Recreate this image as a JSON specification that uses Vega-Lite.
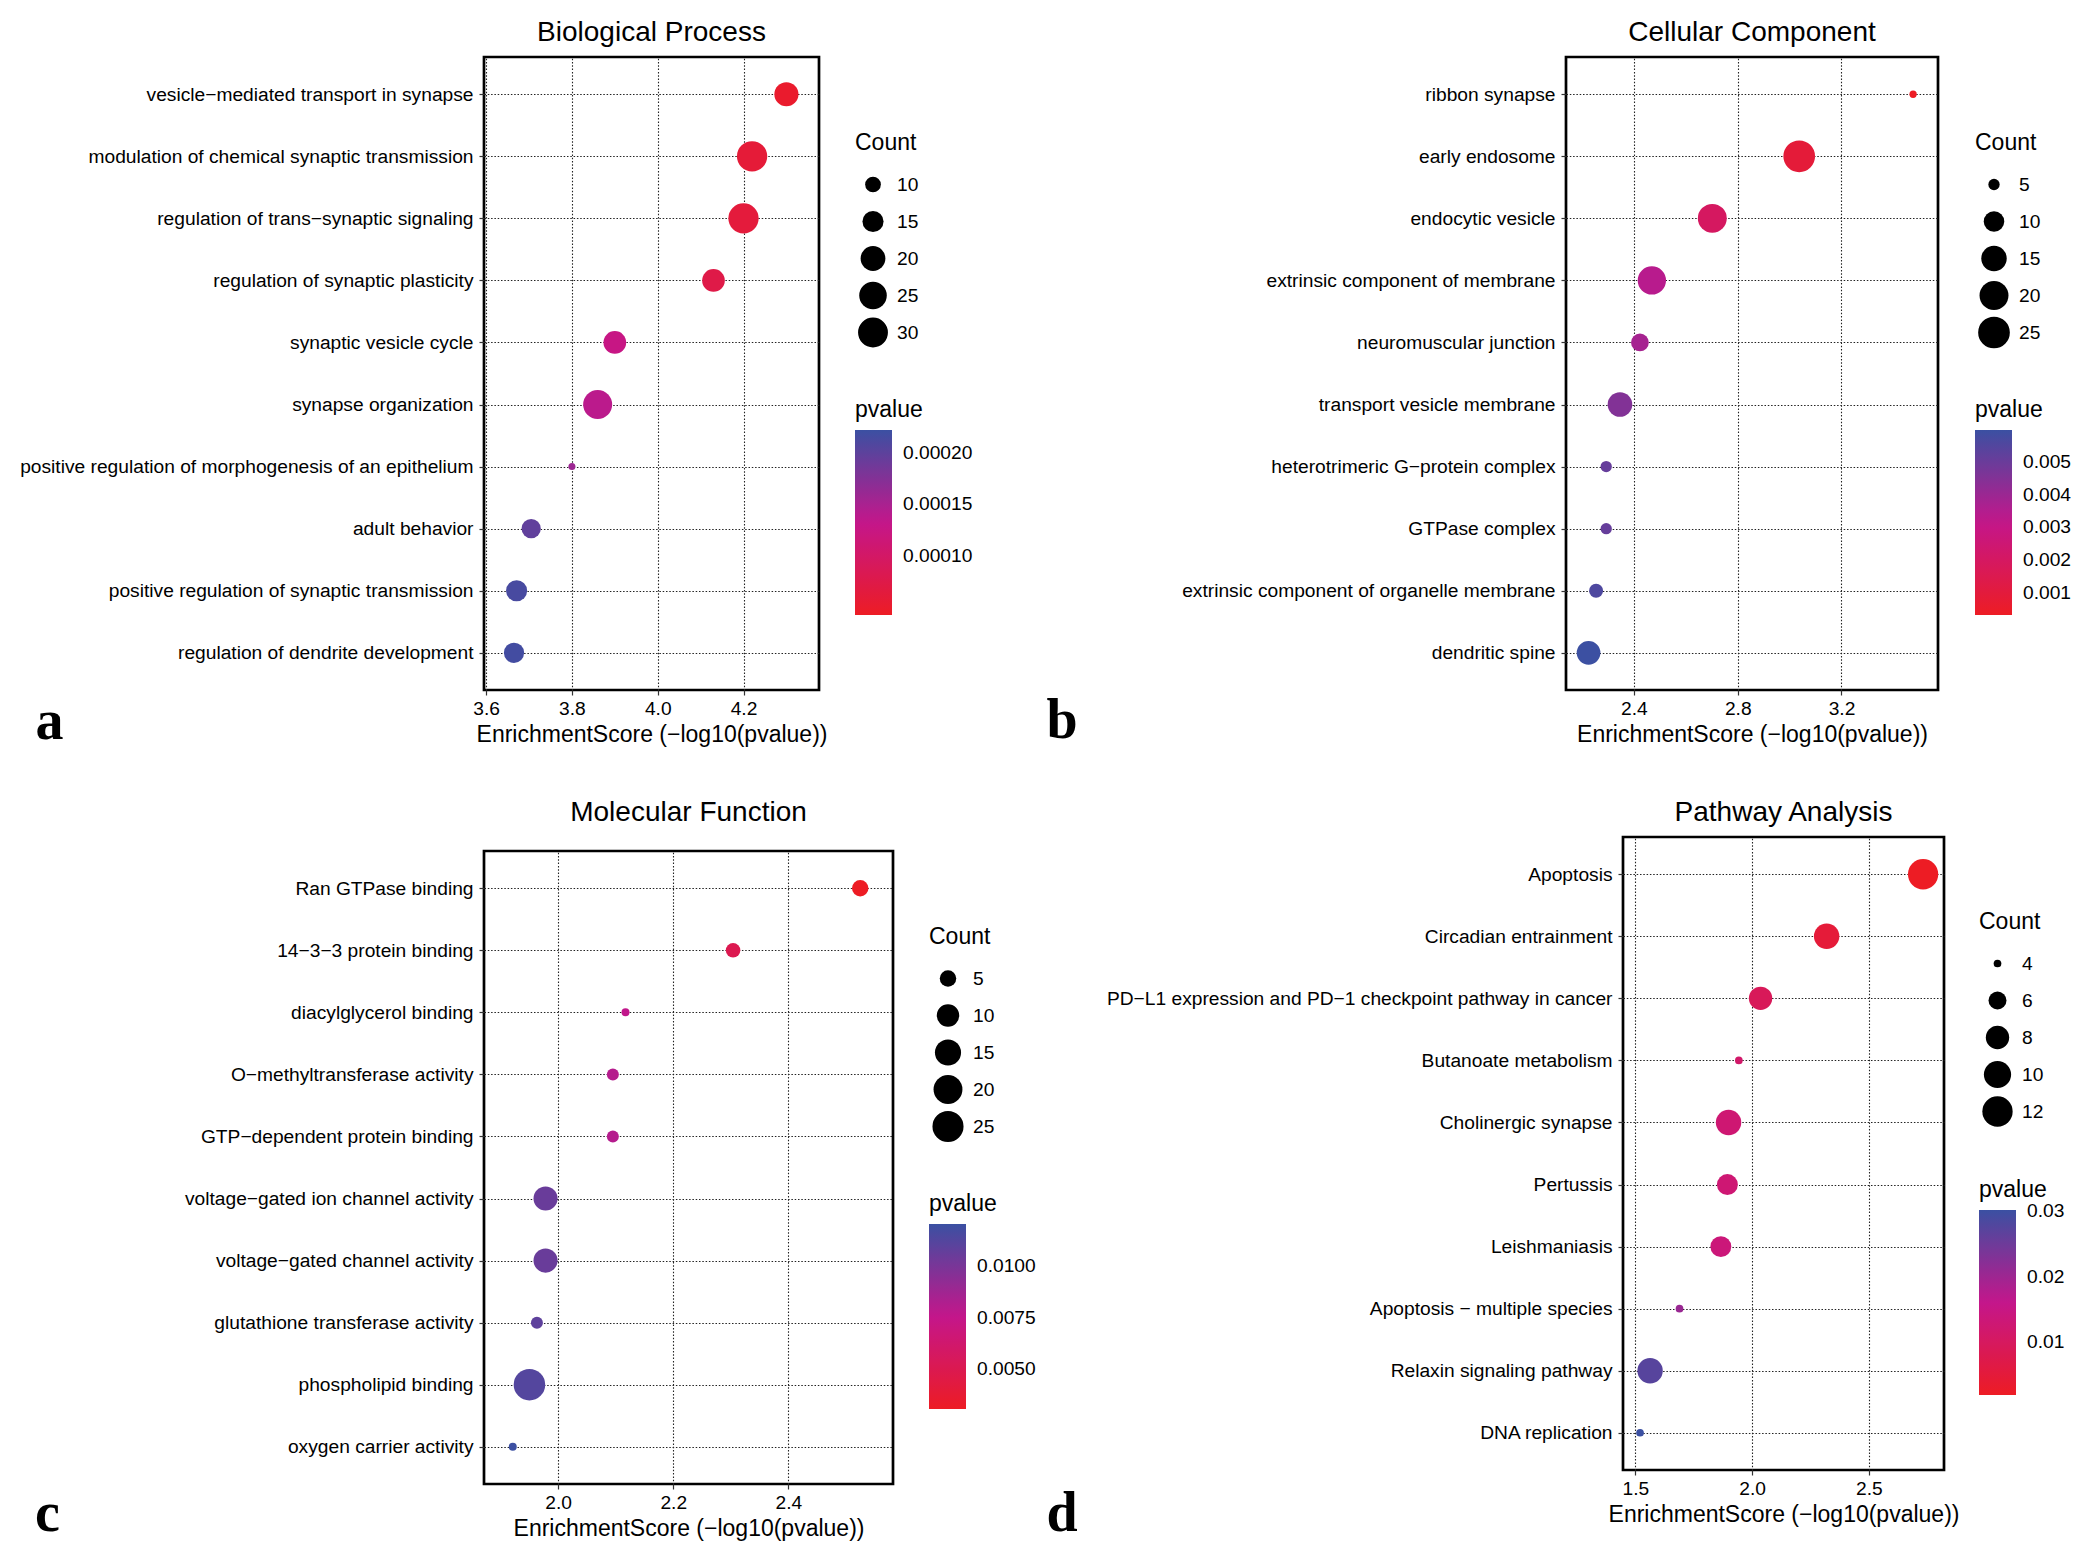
{
  "$schema": "https://vega.github.io/schema/vega-lite/v6.json",
  "padding": {"left": 18, "top": 17, "right": 5, "bottom": 5},
  "background": "white",
  "datasets": {
    "bp": [
      {"term": "vesicle−mediated transport in synapse", "score": 4.30, "Count": 19, "pvalue": 0.00005012},
      {"term": "modulation of chemical synaptic transmission", "score": 4.22, "Count": 31, "pvalue": 0.00006026},
      {"term": "regulation of trans−synaptic signaling", "score": 4.20, "Count": 31, "pvalue": 0.00006310},
      {"term": "regulation of synaptic plasticity", "score": 4.13, "Count": 17, "pvalue": 0.00007413},
      {"term": "synaptic vesicle cycle", "score": 3.90, "Count": 17, "pvalue": 0.0001259},
      {"term": "synapse organization", "score": 3.86, "Count": 28, "pvalue": 0.0001380},
      {"term": "positive regulation of morphogenesis of an epithelium", "score": 3.80, "Count": 6, "pvalue": 0.0001585},
      {"term": "adult behavior", "score": 3.705, "Count": 13, "pvalue": 0.0001972},
      {"term": "positive regulation of synaptic transmission", "score": 3.671, "Count": 15, "pvalue": 0.0002133},
      {"term": "regulation of dendrite development", "score": 3.665, "Count": 14, "pvalue": 0.0002163}
    ],
    "cc": [
      {"term": "ribbon synapse", "score": 3.476, "Count": 4, "pvalue": 0.0003342},
      {"term": "early endosome", "score": 3.037, "Count": 25, "pvalue": 0.0009183},
      {"term": "endocytic vesicle", "score": 2.702, "Count": 20, "pvalue": 0.001986},
      {"term": "extrinsic component of membrane", "score": 2.469, "Count": 19, "pvalue": 0.003396},
      {"term": "neuromuscular junction", "score": 2.423, "Count": 8, "pvalue": 0.003776},
      {"term": "transport vesicle membrane", "score": 2.346, "Count": 14, "pvalue": 0.004508},
      {"term": "heterotrimeric G−protein complex", "score": 2.293, "Count": 5, "pvalue": 0.005093},
      {"term": "GTPase complex", "score": 2.293, "Count": 5, "pvalue": 0.005093},
      {"term": "extrinsic component of organelle membrane", "score": 2.254, "Count": 6, "pvalue": 0.005572},
      {"term": "dendritic spine", "score": 2.225, "Count": 13, "pvalue": 0.005957}
    ],
    "mf": [
      {"term": "Ran GTPase binding", "score": 2.525, "Count": 5, "pvalue": 0.002985},
      {"term": "14−3−3 protein binding", "score": 2.304, "Count": 4, "pvalue": 0.004966},
      {"term": "diacylglycerol binding", "score": 2.117, "Count": 2, "pvalue": 0.007638},
      {"term": "O−methyltransferase activity", "score": 2.095, "Count": 3, "pvalue": 0.008035},
      {"term": "GTP−dependent protein binding", "score": 2.095, "Count": 3, "pvalue": 0.008035},
      {"term": "voltage−gated ion channel activity", "score": 1.978, "Count": 12, "pvalue": 0.010520},
      {"term": "voltage−gated channel activity", "score": 1.978, "Count": 12, "pvalue": 0.010520},
      {"term": "glutathione transferase activity", "score": 1.963, "Count": 3, "pvalue": 0.010889},
      {"term": "phospholipid binding", "score": 1.950, "Count": 26, "pvalue": 0.011220},
      {"term": "oxygen carrier activity", "score": 1.921, "Count": 2, "pvalue": 0.011995}
    ],
    "pw": [
      {"term": "Apoptosis", "score": 2.732, "Count": 12, "pvalue": 0.001854},
      {"term": "Circadian entrainment", "score": 2.319, "Count": 9, "pvalue": 0.004797},
      {"term": "PD−L1 expression and PD−1 checkpoint pathway in cancer", "score": 2.036, "Count": 8, "pvalue": 0.009204},
      {"term": "Butanoate metabolism", "score": 1.943, "Count": 4, "pvalue": 0.01140},
      {"term": "Cholinergic synapse", "score": 1.899, "Count": 9, "pvalue": 0.01262},
      {"term": "Pertussis", "score": 1.894, "Count": 7, "pvalue": 0.01276},
      {"term": "Leishmaniasis", "score": 1.866, "Count": 7, "pvalue": 0.01361},
      {"term": "Apoptosis − multiple species", "score": 1.689, "Count": 4, "pvalue": 0.02046},
      {"term": "Relaxin signaling pathway", "score": 1.563, "Count": 9, "pvalue": 0.02735},
      {"term": "DNA replication", "score": 1.520, "Count": 4, "pvalue": 0.03020}
    ]
  },
  "concat": [
    {
      "data": {"name": "bp"},
      "title": "Biological Process",
      "width": 335,
      "height": 633,
      "mark": {"type": "circle", "opacity": 1},
      "encoding": {
        "y": {"field": "term", "type": "nominal", "sort": null, "scale": {"padding": 0.6},
              "axis": {"title": "a", "titleX": -449, "titleY": 681}},
        "x": {"field": "score", "type": "quantitative", "scale": {"domain": [3.595, 4.376], "nice": false, "zero": false},
              "axis": {"values": [3.6, 3.8, 4.0, 4.2], "format": ".1f", "title": "EnrichmentScore (−log10(pvalue))"}},
        "size": {"field": "Count", "type": "quantitative",
                 "scale": {"type": "sqrt", "domain": [6, 31], "range": [49, 918], "zero": false},
                 "legend": {"title": "Count", "values": [10, 15, 20, 25, 30], "legendX": 371, "legendY": 75}},
        "color": {"field": "pvalue", "type": "quantitative",
                  "scale": {"domain": [0.0000426, 0.0001322, 0.0002218], "range": ["#ED1C24", "#C4168B", "#3B50A2"], "interpolate": "rgb", "clamp": true},
                  "legend": {"title": "pvalue", "type": "gradient", "values": [0.0001, 0.00015, 0.0002], "format": ".5f", "legendX": 371, "legendY": 342, "titlePadding": 8, "labelOffset": 11}}
      }
    },
    {
      "data": {"name": "cc"},
      "title": "Cellular Component",
      "width": 372,
      "height": 633,
      "mark": {"type": "circle", "opacity": 1},
      "encoding": {
        "y": {"field": "term", "type": "nominal", "sort": null, "scale": {"padding": 0.6},
              "axis": {"title": "b", "titleX": -520, "titleY": 680}},
        "x": {"field": "score", "type": "quantitative", "scale": {"domain": [2.138, 3.572], "nice": false, "zero": false},
              "axis": {"values": [2.4, 2.8, 3.2], "format": ".1f", "title": "EnrichmentScore (−log10(pvalue))"}},
        "size": {"field": "Count", "type": "quantitative",
                 "scale": {"type": "sqrt", "domain": [4, 25], "range": [53, 1005], "zero": false},
                 "legend": {"title": "Count", "values": [5, 10, 15, 20, 25], "legendX": 409, "legendY": 75}},
        "color": {"field": "pvalue", "type": "quantitative",
                  "scale": {"domain": [0.000333, 0.0031515, 0.00597], "range": ["#ED1C24", "#C4168B", "#3B50A2"], "interpolate": "rgb", "clamp": true},
                  "legend": {"title": "pvalue", "type": "gradient", "values": [0.001, 0.002, 0.003, 0.004, 0.005], "format": ".3f", "legendX": 409, "legendY": 342, "titlePadding": 8, "labelOffset": 11}}
      }
    },
    {
      "data": {"name": "mf"},
      "title": {"text": "Molecular Function", "offset": 24},
      "width": 409,
      "height": 633,
      "mark": {"type": "circle", "opacity": 1},
      "encoding": {
        "y": {"field": "term", "type": "nominal", "sort": null, "scale": {"padding": 0.6},
              "axis": {"title": "\u200c\u00a0c", "titleX": -463.4, "titleY": 679}},
        "x": {"field": "score", "type": "quantitative", "scale": {"domain": [1.871, 2.582], "nice": false, "zero": false},
              "axis": {"values": [2.0, 2.2, 2.4], "format": ".1f", "title": "EnrichmentScore (−log10(pvalue))"}},
        "size": {"field": "Count", "type": "quantitative",
                 "scale": {"type": "sqrt", "domain": [2, 26], "range": [64, 992], "zero": false},
                 "legend": {"title": "Count", "values": [5, 10, 15, 20, 25], "legendX": 445, "legendY": 75}},
        "color": {"field": "pvalue", "type": "quantitative",
                  "scale": {"domain": [0.00307, 0.00755, 0.01203], "range": ["#ED1C24", "#C4168B", "#3B50A2"], "interpolate": "rgb", "clamp": true},
                  "legend": {"title": "pvalue", "type": "gradient", "values": [0.005, 0.0075, 0.01], "format": ".4f", "legendX": 445, "legendY": 342, "titlePadding": 8, "labelOffset": 11}}
      }
    },
    {
      "data": {"name": "pw"},
      "title": "Pathway Analysis",
      "width": 321,
      "height": 633,
      "mark": {"type": "circle", "opacity": 1},
      "encoding": {
        "y": {"field": "term", "type": "nominal", "sort": null, "scale": {"padding": 0.6},
              "axis": {"title": "d", "titleX": -577, "titleY": 693}},
        "x": {"field": "score", "type": "quantitative", "scale": {"domain": [1.447, 2.8215], "nice": false, "zero": false},
              "axis": {"values": [1.5, 2.0, 2.5], "format": ".1f", "title": "EnrichmentScore (−log10(pvalue))"}},
        "size": {"field": "Count", "type": "quantitative",
                 "scale": {"type": "sqrt", "domain": [4, 12], "range": [59, 918], "zero": false},
                 "legend": {"title": "Count", "values": [4, 6, 8, 10, 12], "legendX": 356, "legendY": 74}},
        "color": {"field": "pvalue", "type": "quantitative",
                  "scale": {"domain": [0.0019, 0.01605, 0.0302], "range": ["#ED1C24", "#C4168B", "#3B50A2"], "interpolate": "rgb", "clamp": true},
                  "legend": {"title": "pvalue", "type": "gradient", "values": [0.01, 0.02, 0.03], "format": ".2f", "legendX": 356, "legendY": 342, "titlePadding": 8, "labelOffset": 11}}
      }
    }
  ],
  "columns": 2,
  "spacing": {"row": 46, "column": 6},
  "bounds": "full",
  "align": "none",
  "resolve": {"scale": {"color": "independent", "size": "independent", "x": "independent", "y": "independent"}, "legend": {"color": "independent", "size": "independent"}},
  "config": {
    "font": "Liberation Sans",
    "view": {"stroke": "black", "strokeWidth": 2.7},
    "circle": {"opacity": 1, "strokeWidth": 0},
    "title": {"fontSize": 28, "font": "Liberation Sans", "fontWeight": "normal", "color": "black", "anchor": "middle", "frame": "group", "offset": 10, "baseline": "alphabetic"},
    "axis": {
      "labelFont": "Liberation Sans", "labelFontSize": 19.2, "labelColor": "black",
      "titleFont": "Liberation Sans", "titleFontSize": 23, "titleFontWeight": "normal", "titleColor": "black",
      "domain": false, "ticks": true, "tickSize": 5, "tickColor": "#333333", "tickWidth": 1.2,
      "grid": true, "gridColor": "#222222", "gridDash": [1.5, 1.8], "gridWidth": 1.1, "gridOpacity": 1,
      "labelPadding": 6, "titlePadding": 5, "labelLimit": 700
    },
    "axisX": {"labelPadding": 4},
    "axisY": {"titleAngle": 0, "titleFont": "Liberation Serif", "titleFontWeight": "bold", "titleFontSize": 56, "titleAlign": "left", "titleBaseline": "alphabetic", "titleColor": "black"},
    "legend": {
      "orient": "none", "padding": 0,
      "titleFont": "Liberation Sans", "titleFontSize": 23, "titleFontWeight": "normal", "titleColor": "black",
      "labelFont": "Liberation Sans", "labelFontSize": 19.2, "labelColor": "black",
      "gradientLength": 185, "gradientThickness": 37, "gradientStrokeWidth": 0,
      "symbolType": "circle", "symbolFillColor": "black", "symbolStrokeColor": "black", "symbolStrokeWidth": 0, "symbolOpacity": 1,
      "clipHeight": 37, "rowPadding": 0, "symbolOffset": 3, "labelOffset": 9, "titlePadding": 11
    }
  }
}
